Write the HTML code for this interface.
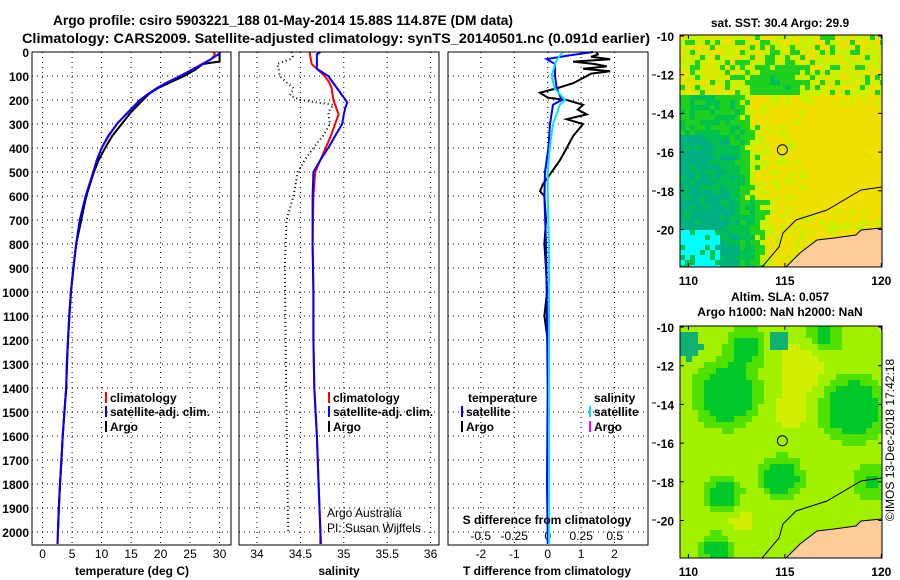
<!DOCTYPE html>
<html><head><meta charset="utf-8"><style>
html,body{margin:0;padding:0;background:#fff;}
svg{display:block;font-family:"Liberation Sans",sans-serif;}
</style></head><body>
<svg id="c" width="900" height="580" viewBox="0 0 900 580"></svg>
<script>
// ---------- data ----------
const depthT = [0,10,30,50,75,100,125,150,175,200,250,300,350,400,450,500,600,700,800,900,1000,1100,1200,1300,1400,1500,1600,1700,1800,1900,2000,2050];
const climT = [29.0,29.2,28.6,27.0,25.2,23.3,21.2,19.4,17.9,16.5,14.5,12.6,11.2,10.0,9.2,8.6,7.3,6.3,5.7,5.2,4.8,4.5,4.3,4.1,4.0,3.7,3.4,3.2,2.95,2.75,2.6,2.5];
const satT = [30.1,29.8,28.5,27.2,25.3,23.3,21.3,19.4,17.9,16.5,14.5,12.6,11.1,10.0,9.2,8.6,7.3,6.3,5.7,5.2,4.8,4.5,4.3,4.1,4.0,3.7,3.4,3.2,2.95,2.75,2.6,2.55];
const depthArgoT = [0,10,20,30,40,45,50,75,100,125,150,175,200,220,250,300,350,400,450,500,600,800,1000,1200,1400,1600,1800,2000];
const argoT = [30.0,30.0,30.0,30.0,30.0,28.5,27.2,25.8,24.0,21.8,19.6,18.0,17.0,16.2,15.0,13.4,11.8,10.6,9.5,8.7,7.4,5.7,4.8,4.3,4.0,3.4,2.95,2.6];
const depthS = [0,10,30,50,70,100,125,150,175,200,210,230,260,300,350,400,450,500,600,800,1000,1200,1400,1600,1800,2000,2050];
const satS = [34.73,34.69,34.69,34.69,34.69,34.82,34.87,34.92,34.97,35.02,35.04,35.02,35.0,34.98,34.9,34.82,34.73,34.65,34.64,34.64,34.65,34.65,34.66,34.69,34.71,34.73,34.73];
const climS = [34.61,34.61,34.62,34.63,34.69,34.78,34.83,34.86,34.87,34.88,34.89,34.91,34.94,34.9,34.85,34.79,34.73,34.67,34.65,34.64,34.65,34.65,34.66,34.69,34.71,34.73,34.74];
const depthArgoS = [0,20,30,50,70,100,130,150,180,200,220,250,300,350,400,450,500,600,700,900,1200,1500,1800,2000];
const argoS = [34.40,34.41,34.38,34.23,34.25,34.26,34.35,34.42,34.38,34.50,34.88,34.82,34.84,34.76,34.65,34.55,34.47,34.42,34.34,34.32,34.33,34.34,34.35,34.36];
const depthDiffArgo = [0,10,20,30,40,50,60,70,80,90,100,130,150,170,190,200,220,240,260,280,300,350,400,450,500,550,580,600,700,800,900,1000,1100,1200,1400,1600,1800,2000];
const argoDT = [1.46,1.5,1.3,1.87,0.76,1.4,1.77,1.06,1.87,1.3,1.17,0.76,0.3,-0.23,0.0,0.57,1.06,0.9,1.17,0.57,1.06,0.76,0.57,0.37,0.12,-0.14,-0.23,-0.1,-0.05,-0.1,-0.05,-0.02,-0.1,0.0,0.02,0.0,0.0,0.02];
const depthDiffSat = [0,15,30,50,100,150,200,220,300,400,500,600,800,1000,1400,1800,2000,2050];
const satDT = [1.36,0.6,-0.03,0.22,0.22,0.27,0.42,0.16,0.07,0.02,-0.08,-0.1,-0.05,-0.03,0.0,-0.02,0.0,0.0];
const satDS = [0.116,0.09,0.07,0.055,0.03,0.05,0.13,0.09,0.04,0.015,0.0,0.0,0.01,0.01,0.01,0.01,0.01,0.01];
const depthTicks = [0,100,200,300,400,500,600,700,800,900,1000,1100,1200,1300,1400,1500,1600,1700,1800,1900,2000];
const tTicks = [0,5,10,15,20,25,30];
const sTicks = [34,34.5,35,35.5,36];
const sTickLabels = ["34","34.5","35","35.5","36"];
const dTTicks = [-2,-1,0,1,2];
const dSTicks = [-0.5,-0.25,0,0.25,0.5];
const dSTickLabels = ["-0.5","-0.25","0","0.25","0.5"];
const latTicks = [-10,-12,-14,-16,-18,-20];
const lonTicks = [110,115,120];

// ---------- scales ----------
const yD = d => 52 + d*0.24;
const xT = t => 42.6 + t*5.9;
const xS = s => 257 + (s-34)*86.8;
const xDT = v => 547.7 + v*33.4;
const xDS = v => 547.7 + v*134;
const svg = document.getElementById('c');
const NS = 'http://www.w3.org/2000/svg';
function mk(tag, attrs, name, parent){
  const el = document.createElementNS(NS, tag);
  for (const k in attrs) el.setAttribute(k, attrs[k]);
  
  
  (parent||svg).appendChild(el);
  return el;
}
function txt(x,y,s,name,opts){
  opts = opts||{};
  const el = mk('text',{x:x,y:y,'font-size':opts.size||12,'font-weight':opts.weight||'bold','text-anchor':opts.anchor||'start',fill:opts.fill||'#000'},name);
  if (opts.len) { el.setAttribute('textLength', opts.len); el.setAttribute('lengthAdjust','spacingAndGlyphs'); }
  if (opts.tr) el.setAttribute('transform', opts.tr);
  el.textContent = s;
  return el;
}
function line(xs, ds, xf, color, name, w, dash){
  const pts = xs.map((v,i)=> xf(v).toFixed(1)+','+yD(ds[i]).toFixed(1)).join(' ');
  const a = {points:pts, fill:'none', stroke:color, 'stroke-width':w||2};
  if (dash) a['stroke-dasharray'] = dash;
  mk('polyline', a, name);
}

// ---------- titles ----------
txt(283,25,'Argo profile: csiro 5903221_188 01-May-2014 15.88S 114.87E (DM data)','title-line-1',{size:14,anchor:'middle',len:460});
txt(336,43,'Climatology: CARS2009. Satellite-adjusted climatology: synTS_20140501.nc (0.091d earlier)','title-line-2',{size:14,anchor:'middle',len:628});

// ---------- panels ----------
const panels = [
  {x0:32,x1:231,name:'temperature-panel'},
  {x0:239,x1:439,name:'salinity-panel'},
  {x0:448,x1:648,name:'difference-panel'}
];
const yBot = 545;
panels.forEach(p=>{
  depthTicks.forEach(d=>{
    mk('line',{x1:p.x0,x2:p.x1,y1:yD(d),y2:yD(d),stroke:'#000','stroke-width':1,'stroke-dasharray':'1,4'},'depth-gridline');
  });
});
tTicks.forEach((t,i)=>{
  mk('line',{x1:xT(t),x2:xT(t),y1:52,y2:yBot,stroke:'#000','stroke-width':1,'stroke-dasharray':'1,4'},'temperature-gridline');
  txt(xT(t),558,String(t),'temperature-tick-label',{anchor:'middle',weight:'normal'});
});
sTicks.forEach((s,i)=>{
  mk('line',{x1:xS(s),x2:xS(s),y1:52,y2:yBot,stroke:'#000','stroke-width':1,'stroke-dasharray':'1,4'},'salinity-gridline');
  txt(xS(s),558,sTickLabels[i],'salinity-tick-label',{anchor:'middle',weight:'normal'});
});
dTTicks.forEach(v=>{
  mk('line',{x1:xDT(v),x2:xDT(v),y1:52,y2:yBot,stroke:'#000','stroke-width':1,'stroke-dasharray':'1,4'},'t-diff-gridline');
  txt(xDT(v),558,String(v),'t-diff-tick-label',{anchor:'middle',weight:'normal'});
});
dSTicks.forEach((v,i)=>{
  txt(xDS(v),540,dSTickLabels[i],'s-diff-tick-label',{anchor:'middle',weight:'normal'});
});
depthTicks.forEach(d=>{
  txt(29,yD(d)+5,String(d),'depth-tick-label',{anchor:'end'});
});
[75,114,191,403,443,481,520].forEach(y=>{
  mk('line',{x1:652,x2:656,y1:y,y2:y,stroke:'#000','stroke-width':1},'right-axis-tick');
});

// series
line(climT, depthT, xT, '#ff0000', 'climatology-temperature-line', 2);
line(argoT, depthArgoT, xT, '#000000', 'argo-temperature-line', 2);
line(satT, depthT, xT, '#0000ff', 'satellite-temperature-line', 2);
line(argoS, depthArgoS, xS, '#000000', 'argo-salinity-line', 2, '1,3');
line(climS, depthS, xS, '#ff0000', 'climatology-salinity-line', 2);
line(satS, depthS, xS, '#0000ff', 'satellite-salinity-line', 2);
line(argoDT, depthDiffArgo, xDT, '#000000', 'argo-t-diff-line', 2);
line(satDT, depthDiffSat, xDT, '#0000ff', 'satellite-t-diff-line', 2);
line(satDS, depthDiffSat, xDS, '#00e5ee', 'satellite-s-diff-line', 2);

panels.forEach(p=>{
  mk('rect',{x:p.x0,y:52,width:p.x1-p.x0,height:yBot-52,fill:'none',stroke:'#000','stroke-width':1},p.name+'-frame');
});

// axis titles
txt(132,575,'temperature (deg C)','temperature-axis-title',{anchor:'middle'});
txt(339,575,'salinity','salinity-axis-title',{anchor:'middle'});
txt(547,575,'T difference from climatology','t-diff-axis-title',{anchor:'middle'});
txt(547,524,'S difference from climatology','s-diff-axis-title',{anchor:'middle'});
txt(327,517,'Argo Australia','credit-line-1',{weight:'normal'});
txt(327,532,'PI: Susan Wijffels','credit-line-2',{weight:'normal'});

// legends
function leg(x,y,color,label,name){
  mk('rect',{x:x,y:y-10,width:2,height:11,fill:color},name+'-swatch');
  txt(x+5,y,label,name);
}
leg(105,402,'#ff0000','climatology','legend-climatology-t');
leg(105,416,'#0000ff','satellite-adj. clim.','legend-satellite-t');
leg(105,431,'#000000','Argo','legend-argo-t');
leg(328,402,'#ff0000','climatology','legend-climatology-s');
leg(328,416,'#0000ff','satellite-adj. clim.','legend-satellite-s');
leg(328,431,'#000000','Argo','legend-argo-s');
txt(468,402,'temperature','legend-temperature-header');
txt(594,402,'salinity','legend-salinity-header');
leg(461,416,'#0000ff','satellite','legend-satellite-tdiff');
leg(461,431,'#000000','Argo','legend-argo-tdiff');
leg(589,416,'#00e5ee','satellite','legend-satellite-sdiff');
leg(589,431,'#ff00ff','Argo','legend-argo-sdiff');

// ---------- maps ----------
const MX0=680, MX1=882;
const lonX = lon => 688.4 + (lon-110)*19.29;
function hash(i,j){ let h = (i*374761393 + j*668265263) >>> 0; h = ((h ^ (h>>>13)) * 1274126177) >>> 0; h = (h ^ (h>>>16)) >>> 0; return (h % 10000)/10000; }
function sstColor(lon,lat,i,j){
  const n = hash(i,j);
  if (lon<111.6 && lat<-20.1 && n>0.2) return '#00ffff';
  let c;
  if (lat>-13) {
    c = 0.25 + 0.65*Math.exp(-((lon-114.5)**2/2.5 + (lat+12.3)**2/1.2));
  } else {
    let edge = 113.6;
    if (lat<-18.5) edge = 114.2;
    if (lat>-14.5) edge = 113.3;
    c = Math.max(0, Math.min(1.0, (edge-lon)/1.2 + 0.2));
    if (lon<112.8 && lat<-15) c += Math.min(0.6, (112.8-lon)*0.25 + (-15-lat)*0.05);
  }
  if (lon>116 && lat<-13.5 && lat>-19) c -= 0.4;
  c += (n-0.5)*0.6;
  if (c<0.15) return '#f0e000';
  if (c<0.45) return '#c8f000';
  if (c<1.0) return '#20d020';
  if (c<1.4) return '#00c050';
  return '#00b080';
}
function slaColor(lon,lat){
  const greens=[[112,-13.5,1.0,1.5],[118.5,-14.2,1.0,1.5],[114.8,-17.8,0.9,1.0],[111.8,-18.7,0.9,0.9],[117,-10.5,0.6,1.0],[113,-11,0.6,1.0],[111.5,-21.5,0.7,0.9],[119.5,-18,0.5,1.0]];
  const yel=[[116,-12,0.5,1.2],[115.3,-14.3,0.4,1.0],[112.5,-20,0.3,1.0]];
  let f=0.7;
  greens.forEach(b=>{ f -= b[2]*Math.exp(-((lon-b[0])**2+(lat-b[1])**2)/(b[3]*b[3])); });
  yel.forEach(b=>{ f += b[2]*Math.exp(-((lon-b[0])**2+(lat-b[1])**2)/(b[3]*b[3])); });
  const teal = Math.exp(-((lon-110)**2+(lat+11)**2)/0.7) + Math.exp(-((lon-114.7)**2+(lat+10.7)**2)/0.4);
  if (teal>0.5) return '#10b070';
  if (f<0.25) return '#00c828';
  if (f<0.5) return '#50e000';
  if (f<0.85) return '#a0f000';
  return '#d0f000';
}
function drawMap(top, kind){
  const g = mk('g',{},kind+'-map-cells');
  const step = kind==='sst'?5:6;
  const bot = top + 232;
  for (let x=MX0, i=0; x<MX1; x+=step, i++){
    for (let y=top, j=0; y<bot; y+=step, j++){
      const lon = 110 + (x+step/2-688.4)/19.29;
      const lat = -10 - (y+step/2-(top+1))/19.35;
      const col = kind==='sst'? sstColor(lon,lat,i,j) : slaColor(lon,lat);
      mk('rect',{x:x,y:y,width:Math.min(step,MX1-x),height:Math.min(step,bot-y),fill:col},kind+'-cell',g);
    }
  }
  const o = top-35;
  const land = [[882,228],[861,230],[856,235],[834,238],[817,240],[800,253],[786,267],[882,267]];
  mk('polygon',{points:land.map(p=>p[0]+','+(p[1]+o)).join(' '),fill:'#ffcc99',stroke:'#000','stroke-width':1},kind+'-land');
  const cont = [[882,187],[861,190],[827,210],[796,220],[783,233],[779,247],[762,267]];
  mk('polyline',{points:cont.map(p=>p[0]+','+(p[1]+o)).join(' '),fill:'none',stroke:'#000','stroke-width':1},kind+'-isobath');
  mk('polygon',{points:`876,${top} 882,${top} 882,${top+6}`,fill:'#ffcc99'},kind+'-corner-land');
  mk('circle',{cx:lonX(114.87),cy:top+1+5.88*19.35,r:5,fill:'none',stroke:'#000','stroke-width':1},kind+'-argo-location');
  mk('rect',{x:MX0,y:top,width:MX1-MX0,height:232,fill:'none',stroke:'#000','stroke-width':1},kind+'-map-frame');
  latTicks.forEach(l=>{
    const y = top+1+(-10-l)*19.35;
    txt(674,y+5,String(l),kind+'-lat-label',{anchor:'end'});
    mk('line',{x1:MX0,x2:MX0+4,y1:y,y2:y,stroke:'#000'},kind+'-lat-tick');
    mk('line',{x1:MX1-4,x2:MX1,y1:y,y2:y,stroke:'#000'},kind+'-lat-tick');
  });
  lonTicks.forEach(l=>{
    txt(lonX(l),top+250,String(l),kind+'-lon-label',{anchor:'middle'});
    mk('line',{x1:lonX(l),x2:lonX(l),y1:top+232-4,y2:top+232,stroke:'#000'},kind+'-lon-tick');
    mk('line',{x1:lonX(l),x2:lonX(l),y1:top,y2:top+4,stroke:'#000'},kind+'-lon-tick');
  });
}
drawMap(35,'sst');
drawMap(326,'sla');
txt(780,27,'sat. SST: 30.4 Argo: 29.9','sst-map-title',{anchor:'middle'});
txt(780,301,'Altim. SLA: 0.057','sla-map-title-1',{anchor:'middle'});
txt(780,316,'Argo h1000: NaN h2000: NaN','sla-map-title-2',{anchor:'middle'});
txt(0,0,'©IMOS 13-Dec-2018 17:42:18','imos-timestamp',{anchor:'middle',weight:'normal',tr:'translate(894,440) rotate(-90)'});
</script>
</body></html>
